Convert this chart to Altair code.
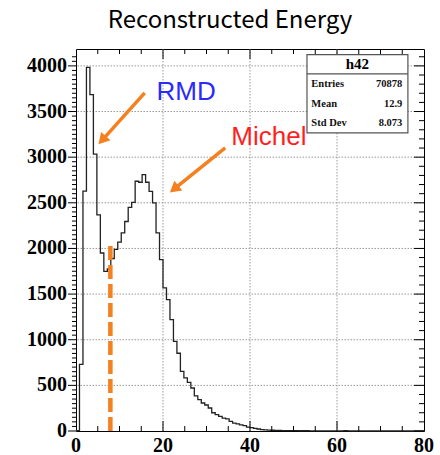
import altair as alt
import pandas as pd
import math

# ---------------- data ----------------
counts = [5, 730, 2627, 3983, 3685, 3034, 2368, 1950, 1749, 1775,
          1890, 1990, 2070, 2170, 2295, 2450, 2505, 2736, 2725, 2809,
          2725, 2626, 2499, 2170, 1877, 1567, 1439, 1220, 982, 852,
          653, 581, 533, 471, 385, 343, 307, 285, 252, 200,
          179, 160, 142, 133, 105, 87, 78, 67, 58, 42,
          36, 28, 22, 16, 13, 10, 8, 7, 6, 5,
          5, 4, 4, 4, 3, 3, 3, 2, 2, 2,
          2, 1, 1, 1, 1, 1, 1, 3, 1, 0,
          0, 2, 0, 0, 0, 0, 0, 0, 0, 0,
          0, 0, 0, 0, 0, 0, 0, 0, 0, 0]
x_low, x_high, n_bins = 0, 80, 100
y_max = 4185

x_label_values = [0, 20, 40, 60, 80]
x_grid_values = [20, 40, 60]
x_minor_ticks = [5, 10, 15, 25, 30, 35, 45, 50, 55, 65, 70, 75]
y_label_values = [0, 500, 1000, 1500, 2000, 2500, 3000, 3500, 4000]
y_grid_values = [500, 1000, 1500, 2000, 2500, 3000, 3500, 4000]
y_minor_left = [v for v in range(50, 4150, 50) if v % 500 != 0]
y_minor_right = [v for v in range(100, 4150, 100) if v % 500 != 0]

cut_value = 7.9          # dashed threshold line
cut_top = 2070

title_text = "Reconstructed Energy"
stats_name = "h42"
stats_labels = ["Entries", "Mean", "Std Dev"]
stats_values = ["70878", "12.9", "8.073"]

# ---------------- geometry ----------------
W, H = 348, 382
xs = alt.Scale(domain=[x_low, x_high], nice=False, zero=False)
ys = alt.Scale(domain=[0, y_max], nice=False, zero=False)

edges = [x_low + i * (x_high - x_low) / n_bins for i in range(n_bins + 1)]
hist_df = pd.DataFrame({"energy": edges, "count": counts + [counts[-1]]})

serif = "Liberation Serif"
orange = "#F4801F"

grid_x = alt.Chart(pd.DataFrame({"g": x_grid_values})).mark_rule(
    color="#9a9a9a", strokeWidth=1, strokeDash=[1.5, 1.5]
).encode(x=alt.X("g:Q", scale=xs, axis=None))
grid_y = alt.Chart(pd.DataFrame({"g": y_grid_values})).mark_rule(
    color="#9a9a9a", strokeWidth=1, strokeDash=[1.5, 1.5]
).encode(y=alt.Y("g:Q", scale=ys, axis=None))

hist = alt.Chart(hist_df).mark_line(
    interpolate="step-after", color="#222222", strokeWidth=1.3
).encode(
    x=alt.X("energy:Q", scale=xs, axis=None),
    y=alt.Y("count:Q", scale=ys, axis=None),
)

# axis labels as text on the same scales
x_lab = alt.Chart(pd.DataFrame({"v": x_label_values})).mark_text(
    font=serif, fontWeight="bold", fontSize=20, baseline="top", align="center", color="black"
).encode(x=alt.X("v:Q", scale=xs, axis=None), y=alt.value(H + 5), text="v:Q")
y_lab = alt.Chart(pd.DataFrame({"v": y_label_values})).mark_text(
    font=serif, fontWeight="bold", fontSize=20, baseline="middle", align="right", color="black"
).encode(y=alt.Y("v:Q", scale=ys, axis=None), x=alt.value(-9), text="v:Q")

cut = alt.Chart(pd.DataFrame({"x": [cut_value], "y0": [0], "y1": [cut_top]})).mark_rule(
    color=orange, strokeWidth=4.5, strokeDash=[14, 5]
).encode(x=alt.X("x:Q", scale=xs, axis=None),
         y=alt.Y("y0:Q", scale=ys, axis=None), y2="y1:Q")

def xticks(vals, y0, y1):
    return alt.Chart(pd.DataFrame({"p": vals})).mark_rule(color="black", strokeWidth=1).encode(
        x=alt.X("p:Q", scale=xs, axis=None), y=alt.value(y0), y2=alt.value(y1))

def yticks(vals, x0, x1):
    return alt.Chart(pd.DataFrame({"p": vals})).mark_rule(color="black", strokeWidth=1).encode(
        y=alt.Y("p:Q", scale=ys, axis=None), x=alt.value(x0), x2=alt.value(x1))

ticks = [
    xticks(x_minor_ticks, H, H - 5), xticks(x_grid_values, H, H - 10),
    xticks(x_minor_ticks, 0, 5), xticks(x_grid_values, 0, 10),
    yticks(y_minor_left, 0, -4), yticks(y_label_values, 0, -8),
    yticks(y_minor_right, W, W - 5), yticks(y_label_values, W, W - 10),
]

# arrows (data coordinates)
arrow_start_x = [15.8, 34.3]
arrow_start_y = [3704, 3102]
arrow_end_x = [5.45, 21.9]
arrow_end_y = [3156, 2626]
px_u, px_v = W / (x_high - x_low), H / y_max
rows = []
head_size = 160
h = (math.sqrt(head_size) / 2) * 0.866
for sx, sy, ex, ey in zip(arrow_start_x, arrow_start_y, arrow_end_x, arrow_end_y):
    dx = (ex - sx) * px_u
    dy = -(ey - sy) * px_v
    L = math.hypot(dx, dy)
    ux, uy = dx / L, dy / L
    cx = ex - ux * h / px_u
    cy = ey + uy * h / px_v
    ang = math.degrees(math.atan2(ux, -uy)) % 360
    rows.append({"sx": sx, "sy": sy, "cx": cx, "cy": cy, "ang": ang})
arr_df = pd.DataFrame(rows)

shafts = alt.Chart(arr_df).mark_rule(color=orange, strokeWidth=3.5).encode(
    x=alt.X("sx:Q", scale=xs, axis=None), y=alt.Y("sy:Q", scale=ys, axis=None),
    x2="cx:Q", y2="cy:Q")
heads = alt.Chart(arr_df).mark_point(shape="triangle", filled=True, color=orange,
                                     size=head_size, opacity=1).encode(
    x=alt.X("cx:Q", scale=xs, axis=None), y=alt.Y("cy:Q", scale=ys, axis=None),
    angle=alt.Angle("ang:Q", scale=None))

label_df = pd.DataFrame({"t": ["RMD", "Michel"], "x": [18.5, 35.7], "y": [3713, 3225],
                         "c": ["#2a2aff", "#ff1e1e"]})
labels = alt.Chart(label_df).mark_text(font="Liberation Sans", fontSize=26, align="left",
                                       baseline="middle").encode(
    x=alt.X("x:Q", scale=xs, axis=None), y=alt.Y("y:Q", scale=ys, axis=None),
    text="t:N", color=alt.Color("c:N", scale=None))

title = alt.Chart(pd.DataFrame({"t": [title_text], "x": [35.4], "y": [4414]})).mark_text(
    font="Noto Sans CJK JP", fontSize=24, align="center", baseline="alphabetic", color="black"
).encode(x=alt.X("x:Q", scale=xs, axis=None), y=alt.Y("y:Q", scale=ys, axis=None), text="t:N")

# stats box
box = alt.Chart(pd.DataFrame({"x0": [53.1], "x1": [76.3], "y0": [3266], "y1": [4124]})).mark_rect(
    fill="white", stroke="#555555", strokeWidth=1.2
).encode(x=alt.X("x0:Q", scale=xs, axis=None), x2="x1:Q",
         y=alt.Y("y0:Q", scale=ys, axis=None), y2="y1:Q")
sep = alt.Chart(pd.DataFrame({"x0": [53.1], "x1": [76.3], "y": [3913]})).mark_rule(
    color="#555555", strokeWidth=1.2
).encode(x=alt.X("x0:Q", scale=xs, axis=None), x2="x1:Q",
         y=alt.Y("y:Q", scale=ys, axis=None))
head_txt = alt.Chart(pd.DataFrame({"t": [stats_name], "x": [64.7], "y": [4018]})).mark_text(
    font=serif, fontWeight="bold", fontSize=15, baseline="middle", align="center", color="black"
).encode(x=alt.X("x:Q", scale=xs, axis=None), y=alt.Y("y:Q", scale=ys, axis=None), text="t:N")
stat_rows = pd.DataFrame({"l": stats_labels, "v": stats_values, "y": [3803, 3584, 3376],
                          "xl": [54.1] * 3, "xr": [75.0] * 3})
stat_l = alt.Chart(stat_rows).mark_text(font=serif, fontWeight="bold", fontSize=10.5,
                                        baseline="middle", align="left", color="#111").encode(
    x=alt.X("xl:Q", scale=xs, axis=None), y=alt.Y("y:Q", scale=ys, axis=None), text="l:N")
stat_v = alt.Chart(stat_rows).mark_text(font=serif, fontWeight="bold", fontSize=10.5,
                                        baseline="middle", align="right", color="#111").encode(
    x=alt.X("xr:Q", scale=xs, axis=None), y=alt.Y("y:Q", scale=ys, axis=None), text="v:N")

chart = alt.layer(
    grid_x, grid_y, hist, cut, *ticks, x_lab, y_lab, shafts, heads, labels, title,
    box, sep, head_txt, stat_l, stat_v
).properties(
    width=W, height=H,
    padding={"left": 76, "top": 49, "right": 16, "bottom": 24},
    autosize=alt.AutoSizeParams(type="none"),
).configure_view(stroke="black", strokeWidth=1)

chart.save("out.html", embed_options={"renderer": "svg", "actions": False})
